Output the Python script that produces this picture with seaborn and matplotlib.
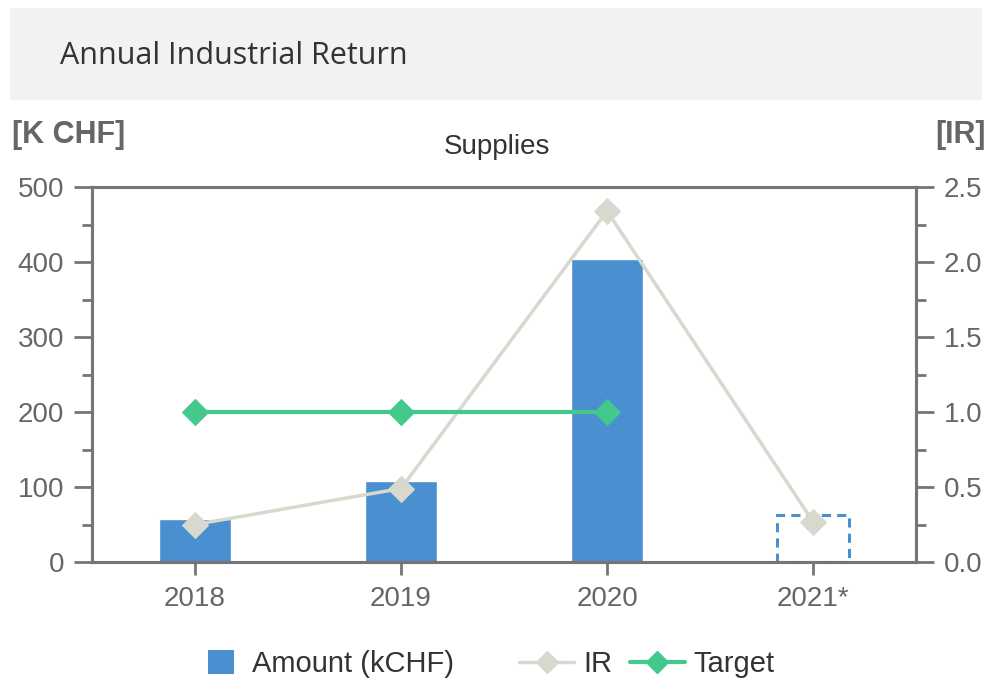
import numpy as np
import pandas as pd
import matplotlib
matplotlib.use("Agg")
import matplotlib.pyplot as plt
import seaborn as sns
from matplotlib.patches import Rectangle, Patch
from matplotlib.lines import Line2D
from matplotlib.ticker import MultipleLocator

years = ["2018", "2019", "2020", "2021*"]
amount = [58, 108, 404, 63]
ir = [0.25, 0.49, 2.34, 0.27]
target = [1.0, 1.0, 1.0, np.nan]

bar_col = "#4a8fcf"
ir_col = "#d8d8cf"
tgt_col = "#43c98b"
axis_col = "#757575"
text_col = "#666666"

sns.set_style("white")
plt.rcParams["font.family"] = ["Liberation Sans", "DejaVu Sans"]

fig = plt.figure(figsize=(9.91, 6.84), dpi=100)
ax = fig.add_axes([92 / 991, 1 - 562 / 684, 824 / 991, 375 / 684])

# header banner
fig.patches.append(Rectangle((10 / 991, 1 - 100 / 684), 972 / 991, 92 / 684,
                             transform=fig.transFigure, facecolor="#f2f2f2",
                             edgecolor="none", zorder=0))
fig.text(60 / 991, 1 - 56 / 684, "Annual Industrial Return", fontsize=22,
         family=["Open Sans", "DejaVu Sans"], color="#333333", va="center")

df = pd.DataFrame({"year": years, "amount": amount, "ir": ir, "target": target,
                   "pos": range(len(years))})

sns.barplot(data=df, x="year", y="amount", color=bar_col, width=0.35,
            saturation=1, ax=ax, zorder=2)
last = ax.patches[-1]
last.set_facecolor("none")
last.set_edgecolor(bar_col)
last.set_linestyle((0, (3, 2)))
last.set_linewidth(2.2)

ax.set_ylim(0, 500)
ax.set_xlim(-0.5, 3.5)
ax.yaxis.set_major_locator(MultipleLocator(100))
ax.yaxis.set_minor_locator(MultipleLocator(50))
ax.set_xlabel("")
ax.set_ylabel("")

ax2 = ax.twinx()
sns.lineplot(data=df, x="pos", y="ir", color=ir_col, marker="D", markersize=13,
             markeredgecolor=ir_col, linewidth=2.5, ax=ax2, zorder=3)
sns.lineplot(data=df, x="pos", y="target", color=tgt_col, marker="D", markersize=13,
             markeredgecolor=tgt_col, linewidth=3, ax=ax2, zorder=3)
ax2.set_ylim(0, 2.5)
ax2.set_xlim(-0.5, 3.5)
ax2.yaxis.set_major_locator(MultipleLocator(0.5))
ax2.yaxis.set_minor_locator(MultipleLocator(0.25))
ax2.yaxis.set_major_formatter(matplotlib.ticker.FormatStrFormatter("%.1f"))
ax2.set_xlabel("")
ax2.set_ylabel("")

for a in (ax, ax2):
    for s in a.spines.values():
        s.set_visible(True)
        s.set_color(axis_col)
        s.set_linewidth(2.2)
    a.tick_params(axis="y", which="major", length=13, width=2, color=axis_col,
                  labelsize=20, labelcolor=text_col, pad=7)
    a.tick_params(axis="y", which="minor", length=7, width=2, color=axis_col)
ax.tick_params(axis="x", length=9, width=2, color=axis_col, labelsize=20,
               labelcolor=text_col, pad=8, bottom=True)
ax.tick_params(axis="y", which="both", left=True)
ax2.tick_params(axis="y", which="both", right=True)

fig.text(12 / 991, 1 - 135 / 684, "[K CHF]", fontsize=22, fontweight="bold",
         color=text_col, va="center", ha="left")
fig.text(986 / 991, 1 - 135 / 684, "[IR]", fontsize=22, fontweight="bold",
         color=text_col, va="center", ha="right")
fig.text(497 / 991, 1 - 147 / 684, "Supplies", fontsize=20, color="#333333",
         va="center", ha="center")

# legend: amount on its own, IR and Target packed together
leg1 = fig.legend([Patch(facecolor=bar_col, edgecolor="none")], ["Amount (kCHF)"],
                  loc="center", bbox_to_anchor=(331 / 991, 1 - 664 / 684),
                  frameon=False, fontsize=21, handlelength=0.9, handleheight=0.9,
                  handletextpad=0.6, labelcolor="#333333")
line_handles = [
    Line2D([], [], color=ir_col, marker="D", markersize=11, linewidth=2.5),
    Line2D([], [], color=tgt_col, marker="D", markersize=11, linewidth=3),
]
fig.legend(line_handles, ["IR", "Target"], loc="center",
           bbox_to_anchor=(647 / 991, 1 - 664 / 684), ncol=2, frameon=False,
           fontsize=21, handlelength=1.9, handletextpad=0.3, columnspacing=0.6,
           labelcolor="#333333")

fig.savefig("out.png", dpi=100)
